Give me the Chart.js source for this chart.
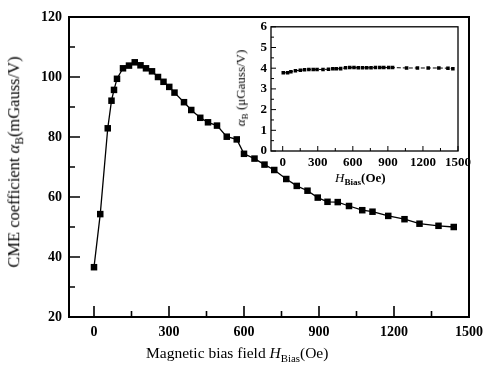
<!DOCTYPE html>
<html>
<head>
<meta charset="utf-8">
<script src="https://cdn.jsdelivr.net/npm/chart.js@4"></script>
<style>
  body { margin: 0; background: #fff; }
  #wrap { position: relative; width: 490px; height: 366px; overflow: hidden; font-family: "Liberation Serif", "Times New Roman", serif; color: #000; }
  canvas { position: absolute; }
  .lbl { position: absolute; white-space: nowrap; line-height: 1; font-weight: normal; }
  .rot { transform: translate(-50%, -50%) rotate(-90deg); }
  sub { font-size: 70%; vertical-align: -0.35em; }
</style>
</head>
<body>
<div id="wrap">
  <canvas id="mainChart" width="490" height="366" style="left:0;top:0"></canvas>
  <canvas id="insetChart" width="225" height="160" style="left:250px;top:15px"></canvas>
  <div class="lbl" style="left:146px;top:345px;font-size:15.5px">Magnetic bias field <i>H</i><sub>Bias</sub>(Oe)</div>
  <div class="lbl rot" style="left:16px;top:162px;font-size:16.5px">CME coefficient <i>α</i><sub>B</sub>(mGauss/V)</div>
  <div class="lbl" style="left:335px;top:171px;font-size:13px"><i>H</i><sub><b>Bias</b></sub><b>(Oe)</b></div>
  <div class="lbl rot" style="left:242px;top:88px;font-size:13px"><i>α</i><sub>B</sub> (μGauss/V)</div>
</div>
<script>
// main curve: CME coefficient vs bias field
const fieldOe = [0, 25, 55, 70, 80, 92, 116, 140, 163, 186, 208, 232, 256, 278, 301, 322, 360, 389, 425, 456,
                 492, 531, 571, 600, 642, 682, 721, 769, 811, 854, 895, 934, 975, 1020, 1073, 1114, 1177, 1242, 1302, 1378, 1439];
const alphaB = [36.6, 54.3, 82.9, 92.1, 95.7, 99.4, 102.9, 103.8, 104.9, 103.9, 102.9, 101.9, 100, 98.4, 96.7, 94.8, 91.6, 89, 86.4, 84.9,
                83.8, 80.1, 79.2, 74.4, 72.8, 70.8, 69, 66, 63.7, 62.1, 59.8, 58.4, 58.3, 57, 55.6, 55.1, 53.7, 52.6, 51.1, 50.4, 50];

// inset: alpha_B in uGauss/V
const insetField = [5, 42, 70, 109, 151, 187, 224, 261, 294, 345, 392, 429, 459, 496, 538, 574, 610, 647, 683, 719,
                    756, 794, 831, 865, 907, 940, 1060, 1153, 1245, 1336, 1414, 1456];
const insetAlpha = [3.78, 3.78, 3.83, 3.88, 3.90, 3.92, 3.94, 3.94, 3.94, 3.94, 3.95, 3.97, 3.97, 3.98, 4.02, 4.03, 4.03, 4.02, 4.02, 4.02,
                    4.02, 4.03, 4.03, 4.03, 4.03, 4.03, 4.01, 4.01, 4.01, 4.01, 4.0, 3.97];

const xTickLabels = [0, 300, 600, 900, 1200, 1500];
const xMinorTicks = [150, 450, 750, 1050, 1350];
const yTickLabels = [20, 40, 60, 80, 100, 120];
const yMinorTicks = [30, 50, 70, 90, 110];
const insetYTicks = [0, 1, 2, 3, 4, 5, 6];
const insetYMinor = [0.5, 1.5, 2.5, 3.5, 4.5, 5.5];

const serif = '"Liberation Serif", "Times New Roman", serif';

// frame + inward tick marks, drawn from the chart's own scales
function frameTicks(cfg) {
    return {
        id: 'frameTicks',
        afterDatasetsDraw(chart) {
            const { ctx, chartArea: a, scales: { x, y } } = chart;
            ctx.save();
            ctx.strokeStyle = '#000';
            ctx.lineWidth = cfg.tickWidth;
            ctx.beginPath();
            const tick = (v, len, axis) => {
                if (axis === 'x') {
                    const px = x.getPixelForValue(v);
                    ctx.moveTo(px, a.bottom); ctx.lineTo(px, a.bottom - len);
                } else {
                    const py = y.getPixelForValue(v);
                    ctx.moveTo(a.left, py); ctx.lineTo(a.left + len, py);
                }
            };
            cfg.xMajor.forEach(v => tick(v, cfg.majorLen, 'x'));
            cfg.xMinor.forEach(v => tick(v, cfg.minorLen, 'x'));
            cfg.yMajor.forEach(v => tick(v, cfg.majorLen, 'y'));
            cfg.yMinor.forEach(v => tick(v, cfg.minorLen, 'y'));
            ctx.stroke();
            ctx.lineWidth = cfg.frameWidth;
            ctx.strokeRect(a.left, a.top, a.right - a.left, a.bottom - a.top);
            ctx.restore();
        }
    };
}

function axisOpts(min, max, ticks, fontSize, pad, fit) {
    return {
        type: 'linear',
        min, max,
        afterBuildTicks: s => { s.ticks = ticks.map(v => ({ value: v })); },
        afterFit: fit,
        grid: { display: false, drawTicks: false },
        border: { display: false },
        ticks: {
            color: '#000', padding: pad,
            font: { family: serif, size: fontSize, weight: 'bold' },
            callback: v => String(v)
        }
    };
}

new Chart(document.getElementById('mainChart'), {
    type: 'line',
    data: {
        datasets: [{
            data: fieldOe.map((v, i) => ({ x: v, y: alphaB[i] })),
            borderColor: '#000',
            backgroundColor: '#000',
            borderWidth: 1.3,
            pointStyle: 'rect',
            pointRadius: 4.6,
            pointBorderWidth: 0,
            tension: 0
        }]
    },
    options: {
        responsive: false,
        animation: false,
        layout: { padding: { top: 17, right: 15, left: 0, bottom: 0 } },
        plugins: { legend: { display: false }, tooltip: { enabled: false } },
        scales: {
            x: axisOpts(-100, 1500, xTickLabels, 14, 7, s => { s.height = 49; }),
            y: axisOpts(20, 120, yTickLabels, 14, 7, s => { s.width = 69; })
        }
    },
    plugins: [frameTicks({ xMajor: xTickLabels, xMinor: xMinorTicks, yMajor: yTickLabels, yMinor: yMinorTicks,
                           majorLen: 11, minorLen: 6, tickWidth: 1.6, frameWidth: 2 })]
});

new Chart(document.getElementById('insetChart'), {
    type: 'line',
    data: {
        datasets: [{
            data: insetField.map((v, i) => ({ x: v, y: insetAlpha[i] })),
            borderColor: '#000',
            backgroundColor: '#000',
            borderWidth: 1,
            borderDash: [4, 2],
            pointStyle: 'rect',
            pointRadius: 2.5,
            pointBorderWidth: 0,
            tension: 0
        }]
    },
    options: {
        responsive: false,
        animation: false,
        layout: { padding: { top: 8, right: 14, left: 0, bottom: 0 } },
        plugins: { legend: { display: false }, tooltip: { enabled: false } },
        scales: {
            x: axisOpts(-100, 1500, xTickLabels, 13, 4, s => { s.height = 24; }),
            y: axisOpts(0, 6, insetYTicks, 13, 4, s => { s.width = 21; })
        }
    },
    plugins: [frameTicks({ xMajor: xTickLabels, xMinor: xMinorTicks, yMajor: insetYTicks, yMinor: insetYMinor,
                           majorLen: 5, minorLen: 3, tickWidth: 1, frameWidth: 1.3 })]
});
</script>
</body>
</html>
